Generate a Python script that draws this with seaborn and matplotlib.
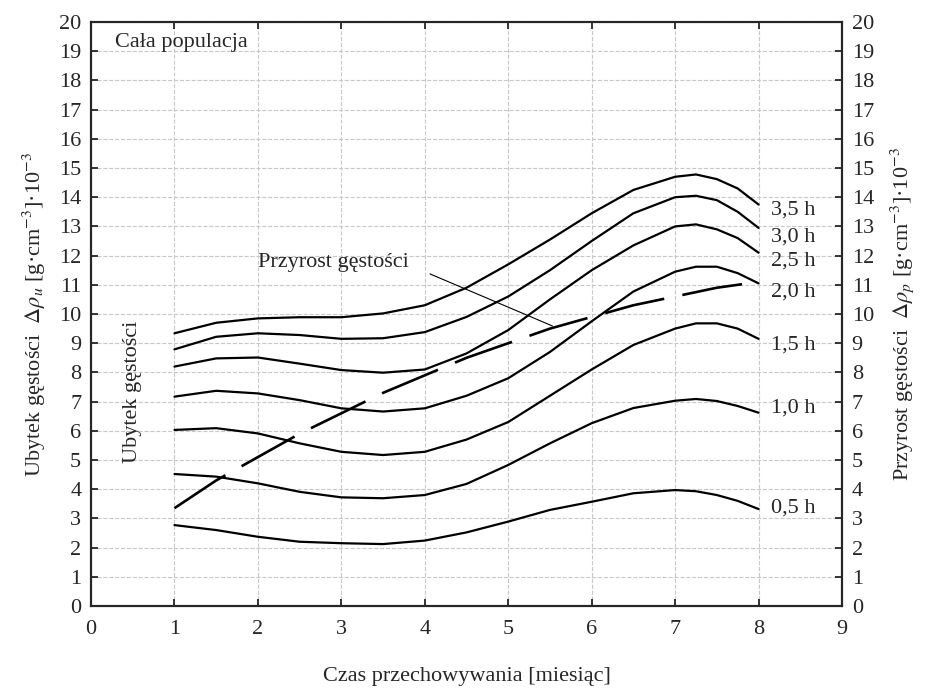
import pandas as pd
import matplotlib
matplotlib.use("Agg")
import matplotlib.pyplot as plt
import seaborn as sns

# ---------------------------------------------------------
# Data
# ---------------------------------------------------------
months = [1, 1.5, 2, 2.5, 3, 3.5, 4, 4.5, 5, 5.5, 6, 6.5, 7, 7.25, 7.5, 7.75, 8]

loss_05 = [2.77, 2.6, 2.37, 2.2, 2.15, 2.12, 2.24, 2.52, 2.89, 3.29, 3.57, 3.86, 3.97, 3.93, 3.8, 3.6, 3.32]
loss_10 = [4.52, 4.43, 4.2, 3.91, 3.72, 3.69, 3.8, 4.18, 4.83, 5.57, 6.26, 6.78, 7.03, 7.09, 7.02, 6.85, 6.62]
loss_15 = [6.03, 6.09, 5.91, 5.57, 5.28, 5.17, 5.28, 5.7, 6.3, 7.2, 8.1, 8.94, 9.5, 9.68, 9.68, 9.5, 9.15]
loss_20 = [7.17, 7.37, 7.28, 7.05, 6.77, 6.66, 6.77, 7.2, 7.8, 8.7, 9.75, 10.77, 11.45, 11.62, 11.62, 11.4, 11.05]
loss_25 = [8.2, 8.48, 8.51, 8.3, 8.08, 7.99, 8.1, 8.65, 9.45, 10.5, 11.5, 12.35, 13.0, 13.07, 12.9, 12.6, 12.1]
loss_30 = [8.79, 9.22, 9.34, 9.28, 9.15, 9.17, 9.38, 9.9, 10.6, 11.5, 12.5, 13.45, 14.0, 14.05, 13.9, 13.5, 12.95]
loss_35 = [9.34, 9.7, 9.85, 9.89, 9.89, 10.02, 10.3, 10.9, 11.7, 12.55, 13.45, 14.25, 14.7, 14.78, 14.62, 14.3, 13.75]

gain = [3.35, 4.3, 5.1, 5.9, 6.6, 7.3, 7.9, 8.5, 9.0, 9.5, 9.9, 10.3, 10.6, 10.75, 10.9, 11.0, 11.1]

series_labels = ["0,5 h", "1,0 h", "1,5 h", "2,0 h", "2,5 h", "3,0 h", "3,5 h"]
label_y = [3.36, 6.78, 8.94, 10.76, 11.8, 12.65, 13.56]
losses = [loss_05, loss_10, loss_15, loss_20, loss_25, loss_30, loss_35]

# ---------------------------------------------------------
# Style
# ---------------------------------------------------------
sns.set_style("ticks")
plt.rcParams["font.family"] = ["Liberation Serif", "DejaVu Serif"]
plt.rcParams["mathtext.fontset"] = "stix"
FS = 16

fig = plt.figure(figsize=(9.27, 6.89), dpi=100)
ax = fig.add_axes([0.0982, 0.1205, 0.8101, 0.8475])

for vals in losses:
    df = pd.DataFrame({"x": months, "y": vals})
    sns.lineplot(data=df, x="x", y="y", ax=ax, color="black", lw=1.6)

df_gain = pd.DataFrame({"x": months, "y": gain})
sns.lineplot(data=df_gain, x="x", y="y", ax=ax, color="black", lw=1.9)
ax.lines[-1].set_dashes((23, 7))

for lab, yy in zip(series_labels, label_y):
    ax.text(8.15, yy, lab, va="center", ha="left", fontsize=FS)

ax.text(0.29, 19.3, "Cała populacja", va="center", ha="left", fontsize=FS)
ax.text(0.5, 7.33, "Ubytek gęstości", rotation=90, va="center", ha="center",
        fontsize=FS)
ax.annotate("Przyrost gęstości", xy=(5.53, 9.59), xytext=(2.0, 11.78),
            va="center", ha="left", fontsize=FS,
            arrowprops=dict(arrowstyle="-", color="black", lw=0.8,
                            shrinkA=14, shrinkB=0, relpos=(1.0, 0.35)))

ax.set_xlim(0, 9)
ax.set_ylim(0, 20)
ax.set_xticks(range(0, 10))
ax.set_yticks(range(0, 21))
ax.grid(True, color="#c8c8c8", linestyle="--", lw=0.8)
ax.tick_params(axis="both", direction="in", length=5, width=1.3,
               labelsize=FS, top=True)
ax.tick_params(axis="x", pad=10)
ax.tick_params(axis="y", pad=7)
for sp in ax.spines.values():
    sp.set_linewidth(1.5)
    sp.set_color("black")

ax.set_xlabel("Czas przechowywania [miesiąc]", fontsize=FS, labelpad=20)
ax.set_ylabel(r"Ubytek gęstości  $\mathit{\Delta\rho_u}$ [g·cm$^{-3}$]·10$^{-3}$",
              fontsize=FS, labelpad=8)

ax2 = ax.twinx()
ax2.set_ylim(0, 20)
ax2.set_yticks(range(0, 21))
ax2.tick_params(direction="in", length=5, width=1.3, labelsize=FS, pad=7)
ax2.set_ylabel(r"Przyrost gęstości  $\mathit{\Delta\rho_p}$ [g·cm$^{-3}$]·10$^{-3}$",
               fontsize=FS, labelpad=10, rotation=90)
for sp in ax2.spines.values():
    sp.set_linewidth(1.5)

fig.savefig("out.png", dpi=100)
